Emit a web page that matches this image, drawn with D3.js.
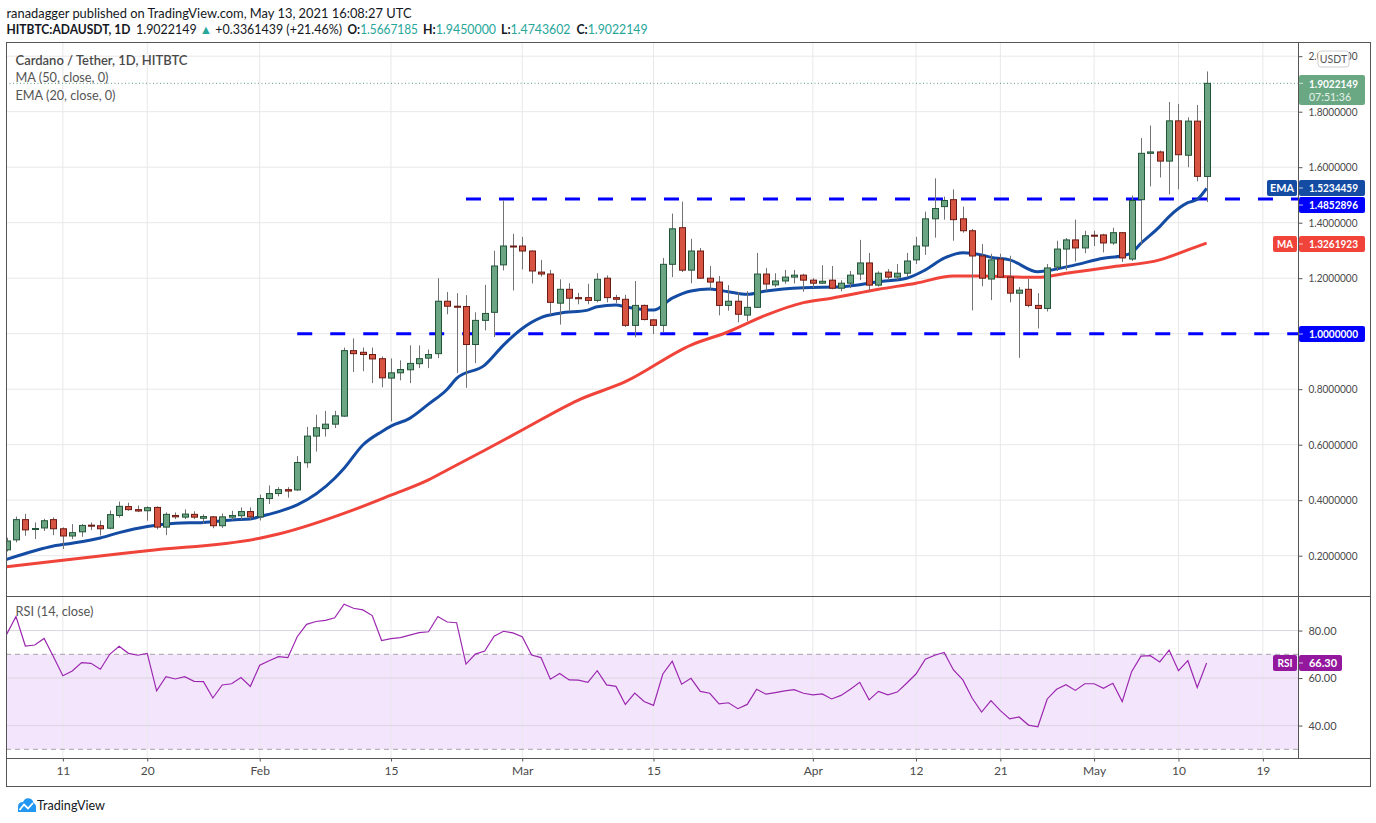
<!DOCTYPE html>
<html><head><meta charset="utf-8">
<script src="https://cdn.jsdelivr.net/npm/d3@7"></script>
<style>
body{margin:0;background:#fff;}
svg{display:block;font-family:Lato,"Liberation Sans",sans-serif;}
</style>
</head><body>
<svg id="c" width="1376" height="823"></svg>
<script>
// ---------- DATA ----------
const firstDay = "2021-01-05";
const lastDay  = "2021-05-13";
const opens = [0.221,0.257,0.330,0.295,0.300,0.330,0.297,0.271,0.286,0.310,
0.308,0.299,0.345,0.377,0.366,0.362,0.374,0.303,0.345,0.339,
0.349,0.335,0.340,0.308,0.339,0.344,0.359,0.340,0.406,0.424,
0.438,0.437,0.535,0.631,0.658,0.674,0.703,0.939,0.933,0.925,
0.910,0.840,0.859,0.870,0.892,0.912,0.928,1.117,1.099,1.098,
0.961,1.048,1.077,1.248,1.316,1.316,1.298,1.222,1.215,1.110,
1.160,1.130,1.130,1.120,1.200,1.130,1.124,1.030,1.102,1.050,
1.030,1.250,1.382,1.229,1.298,1.200,1.186,1.102,1.117,1.067,
1.095,1.215,1.176,1.190,1.204,1.211,1.193,1.182,1.193,1.164,
1.182,1.215,1.255,1.175,1.222,1.204,1.218,1.266,1.316,1.414,
1.458,1.483,1.414,1.371,1.280,1.197,1.269,1.204,1.146,1.160,
1.102,1.091,1.240,1.305,1.338,1.309,1.355,1.356,1.327,1.364,
1.269,1.483,1.650,1.655,1.622,1.767,1.643,1.766,1.5667185];
const highs = [0.265,0.341,0.351,0.320,0.333,0.338,0.302,0.314,0.314,0.320,
0.327,0.363,0.395,0.391,0.381,0.378,0.378,0.356,0.356,0.367,
0.360,0.349,0.343,0.352,0.362,0.374,0.374,0.420,0.453,0.447,
0.447,0.559,0.664,0.708,0.722,0.722,0.950,0.983,0.950,0.950,
0.918,0.911,0.904,0.958,0.958,0.943,1.200,1.150,1.146,1.139,
1.077,1.176,1.299,1.481,1.360,1.349,1.300,1.266,1.230,1.196,
1.182,1.147,1.180,1.218,1.210,1.140,1.140,1.190,1.105,1.052,
1.273,1.433,1.476,1.342,1.309,1.244,1.208,1.175,1.150,1.153,
1.291,1.237,1.218,1.230,1.230,1.216,1.200,1.247,1.244,1.193,
1.226,1.338,1.291,1.225,1.233,1.251,1.291,1.349,1.440,1.560,
1.494,1.520,1.458,1.378,1.323,1.288,1.288,1.281,1.168,1.197,
1.146,1.251,1.335,1.345,1.411,1.371,1.371,1.360,1.382,1.365,
1.498,1.705,1.750,1.660,1.835,1.828,1.780,1.824,1.9450000];
const lows = [0.215,0.248,0.272,0.260,0.289,0.274,0.224,0.260,0.268,0.292,
0.273,0.295,0.337,0.362,0.357,0.326,0.295,0.274,0.332,0.332,
0.332,0.314,0.299,0.300,0.328,0.330,0.330,0.327,0.386,0.414,
0.409,0.433,0.517,0.575,0.629,0.660,0.700,0.862,0.865,0.822,
0.807,0.684,0.832,0.822,0.876,0.876,0.912,1.070,0.858,0.805,
0.894,1.012,0.988,1.228,1.156,1.232,1.181,1.206,1.067,1.033,
1.081,1.106,1.106,1.113,1.113,1.110,1.024,0.987,1.048,0.999,
1.005,1.204,1.222,1.182,1.198,1.160,1.066,1.083,1.041,1.045,
1.093,1.154,1.168,1.180,1.181,1.151,1.164,1.180,1.160,1.153,
1.164,1.193,1.156,1.170,1.193,1.193,1.204,1.251,1.284,1.346,
1.411,1.335,1.364,1.084,1.171,1.121,1.204,1.113,0.913,1.095,
1.019,1.080,1.226,1.229,1.260,1.290,1.316,1.293,1.320,1.258,
1.262,1.320,1.531,1.563,1.502,1.520,1.600,1.549,1.4743602];
const closes = [0.253,0.330,0.293,0.298,0.326,0.297,0.271,0.283,0.309,0.308,
0.297,0.348,0.378,0.366,0.361,0.373,0.303,0.349,0.340,0.350,
0.339,0.341,0.308,0.340,0.345,0.359,0.340,0.406,0.424,0.438,
0.433,0.536,0.631,0.661,0.674,0.704,0.939,0.928,0.925,0.909,
0.841,0.859,0.871,0.893,0.910,0.925,1.117,1.099,1.097,0.961,
1.048,1.073,1.244,1.316,1.313,1.298,1.226,1.215,1.113,1.160,
1.128,1.126,1.120,1.196,1.130,1.124,1.030,1.102,1.051,1.030,
1.250,1.378,1.229,1.298,1.200,1.186,1.102,1.117,1.070,1.095,
1.215,1.179,1.190,1.204,1.211,1.193,1.182,1.189,1.164,1.182,
1.211,1.255,1.175,1.218,1.204,1.218,1.262,1.316,1.414,1.451,
1.480,1.411,1.371,1.280,1.200,1.266,1.204,1.146,1.157,1.102,
1.091,1.237,1.305,1.338,1.309,1.353,1.353,1.327,1.364,1.273,
1.480,1.650,1.655,1.622,1.767,1.645,1.766,1.567,1.9022149];
const rsiValues = [78.4,85.9,73.5,73.9,76.7,69.0,61.0,63.0,66.5,66.2,
63.7,70.0,73.4,70.4,69.6,70.4,54.6,60.6,59.6,60.6,
58.6,58.5,51.6,57.1,57.6,60.2,56.5,65.4,67.3,69.0,
68.6,77.4,82.6,83.8,84.3,85.4,91.1,89.4,88.7,86.3,
75.8,76.6,77.0,78.1,79.1,79.5,85.9,83.6,83.3,65.9,
70.1,71.4,77.6,79.7,79.0,77.4,69.7,68.6,59.5,61.9,
59.2,59.1,58.2,63.1,57.1,56.5,48.9,53.7,50.1,48.5,
61.7,67.1,57.4,59.9,54.4,53.6,49.1,49.6,47.1,48.9,
55.3,53.2,53.9,54.6,55.1,53.6,52.9,53.3,51.2,52.7,
55.3,58.2,50.8,54.4,52.9,54.1,57.8,61.7,67.9,69.6,
70.8,63.4,59.2,51.5,45.7,50.5,46.3,42.8,43.6,40.2,
39.5,51.2,55.3,57.2,54.8,57.6,57.6,55.7,57.8,50.1,
62.7,69.2,69.4,66.8,71.8,63.1,67.3,56.0,66.30];
// EMA(20) and MA(50) (day index from first day, value)
const emaDays = [0,3,5,7,10,12,15,18,21,24,26,27,29,31,35,36,38,40,41,43,45,47,48,51,53,55,57,59,62,63,65,66,69,71,73,75,77,79,81,85,89,93,96,98,100,102,104,105,107,110,111,114,117,119,120,121,123,124,126,127,128];
const emaValues = [0.187,0.218,0.235,0.245,0.264,0.283,0.305,0.317,0.320,0.329,0.332,0.341,0.359,0.383,0.479,0.515,0.599,0.647,0.667,0.695,0.746,0.800,0.839,0.887,0.959,1.019,1.058,1.074,1.085,1.097,1.103,1.097,1.085,1.128,1.154,1.161,1.151,1.142,1.154,1.166,1.169,1.187,1.200,1.230,1.272,1.292,1.284,1.275,1.266,1.223,1.227,1.248,1.272,1.281,1.292,1.326,1.386,1.422,1.472,1.484,1.5234459];
const maDays = [0,6,15,27,29,37,41,45,47,51,55,61,66,73,77,81,85,88,93,97,101,104,110,113,118,123,126,128];
const maValues = [0.160,0.184,0.218,0.263,0.278,0.365,0.418,0.473,0.509,0.580,0.653,0.761,0.827,0.959,1.007,1.067,1.112,1.128,1.160,1.182,1.208,1.208,1.203,1.218,1.241,1.266,1.302,1.3261923];
const levelValues = [1.4852896, 1.0];
const levelStartDays = [49, 31];
const priceTicks = [0.2,0.4,0.6,0.8,1.0,1.2,1.4,1.6,1.8,2.0];
const rsiTicks = [40,60,80];
const timeTickDates = ["2021-01-11","2021-01-20","2021-02-01","2021-02-15","2021-03-01","2021-03-15","2021-04-01","2021-04-12","2021-04-21","2021-05-01","2021-05-10","2021-05-19"];
const timeTickLabels = ["11","20","Feb","15","Mar","15","Apr","12","21","May","10","19"];

// ---------- LAYOUT ----------
const L = 6, R = 1298, OUTR = 1370, TOP = 42, MAINB = 596, RSIB = 758, BOT = 786;
const svg = d3.select("#c");
const parse = d3.utcParse("%Y-%m-%d");
const d0 = parse(firstDay), d1 = parse(lastDay);
const dates = d3.utcDay.range(d0, d3.utcDay.offset(d1, 1));
const x = d3.scaleUtc().domain([d0, d1]).range([6.6, 1206.6]);
const y = d3.scaleLinear().domain([1.0, 2.0]).range([333.7, 56.2]);
const yr = d3.scaleLinear().domain([30, 70]).range([749.3, 654.3]);
const gridC = "#e8e8ea", axisC = "#4a4a4a";

const defs = svg.append("defs");
defs.append("clipPath").attr("id","mainClip").append("rect").attr("x",L).attr("y",TOP).attr("width",R-L).attr("height",MAINB-TOP);
defs.append("clipPath").attr("id","rsiClip").append("rect").attr("x",L).attr("y",MAINB).attr("width",R-L).attr("height",RSIB-MAINB);

// RSI band
svg.append("rect").attr("x",L).attr("y",yr(70)).attr("width",R-L).attr("height",yr(30)-yr(70)).attr("fill","#f3e6fc");

// vertical grid
const tickDates = timeTickDates.map(parse);
svg.append("g").selectAll("line").data(tickDates).join("line")
  .attr("x1",d=>x(d)).attr("x2",d=>x(d)).attr("y1",TOP).attr("y2",RSIB)
  .attr("stroke",gridC).attr("stroke-width",1);
// horizontal grid main
svg.append("g").selectAll("line").data(priceTicks).join("line")
  .attr("x1",L).attr("x2",R).attr("y1",d=>y(d)).attr("y2",d=>y(d))
  .attr("stroke",gridC);
// rsi grid
svg.append("g").selectAll("line").data(rsiTicks).join("line")
  .attr("x1",L).attr("x2",R).attr("y1",d=>yr(d)).attr("y2",d=>yr(d))
  .attr("stroke","#dcd4e2");
svg.append("g").selectAll("line").data([70,30]).join("line")
  .attr("x1",L).attr("x2",R).attr("y1",d=>yr(d)).attr("y2",d=>yr(d))
  .attr("stroke","#a8a2ac").attr("stroke-dasharray","5,4");

// price dotted line
svg.append("line").attr("x1",L).attr("x2",R).attr("y1",y(closes[closes.length-1])).attr("y2",y(closes[closes.length-1]))
  .attr("stroke","#5d9c80").attr("stroke-dasharray","1,2.5");

// main pane content
const main = svg.append("g").attr("clip-path","url(#mainClip)");
// horizontal levels
main.selectAll("line.lvl").data(levelValues).join("line").attr("class","lvl")
  .attr("x1",(d,i)=>x(dates[levelStartDays[i]])).attr("x2",R+20)
  .attr("y1",d=>y(d)).attr("y2",d=>y(d))
  .attr("stroke","#0000ff").attr("stroke-width",3).attr("stroke-dasharray","15,18");

// MA & EMA
const lineGen = d3.line().x(d=>x(dates[d[0]])).y(d=>y(d[1])).curve(d3.curveMonotoneX);
main.append("path").datum(maDays.map((d,i)=>[d,maValues[i]])).attr("d",lineGen)
  .attr("fill","none").attr("stroke","#f0433a").attr("stroke-width",3).attr("stroke-linejoin","round");
main.append("path").datum(emaDays.map((d,i)=>[d,emaValues[i]])).attr("d",lineGen)
  .attr("fill","none").attr("stroke","#144ca4").attr("stroke-width",3).attr("stroke-linejoin","round");

// candles
const candles = dates.map((d,i)=>({d,o:opens[i],h:highs[i],l:lows[i],c:closes[i]}));
const bw = 6;
const cg = main.append("g");
cg.selectAll("line").data(candles).join("line")
  .attr("x1",d=>Math.round(x(d.d))+0.5).attr("x2",d=>Math.round(x(d.d))+0.5)
  .attr("y1",d=>y(d.h)).attr("y2",d=>y(d.l)).attr("stroke","#737375").attr("stroke-width",1);
cg.selectAll("rect").data(candles).join("rect")
  .attr("x",d=>Math.round(x(d.d))-bw/2+0.5).attr("width",bw)
  .attr("y",d=>y(Math.max(d.o,d.c)))
  .attr("height",d=>Math.max(1,Math.abs(y(d.o)-y(d.c))))
  .attr("fill",d=>d.c>=d.o?"#6ba583":"#d75442")
  .attr("stroke",d=>d.c>=d.o?"#225437":"#6b1a13").attr("stroke-width",1);

// RSI line
svg.append("g").attr("clip-path","url(#rsiClip)").append("path")
  .datum(rsiValues.map((v,i)=>[dates[i],v]))
  .attr("d",d3.line().x(d=>x(d[0])).y(d=>yr(d[1])))
  .attr("fill","none").attr("stroke","#9c27b0").attr("stroke-width",1.2);

// frame lines
const frame = svg.append("g").attr("stroke","#555").attr("stroke-width",1);
frame.append("rect").attr("x",L+0.5).attr("y",TOP+0.5).attr("width",OUTR-L).attr("height",BOT-TOP).attr("fill","none");
frame.append("line").attr("x1",R+0.5).attr("x2",R+0.5).attr("y1",TOP).attr("y2",RSIB);
frame.append("line").attr("x1",L).attr("x2",OUTR).attr("y1",MAINB+0.5).attr("y2",MAINB+0.5);
frame.append("line").attr("x1",L).attr("x2",OUTR).attr("y1",RSIB+0.5).attr("y2",RSIB+0.5);

// axes
const fmt7 = d3.format(".7f");
const pAxis = svg.append("g").attr("transform",`translate(${R+0.5},0)`)
  .call(d3.axisRight(y).tickValues(priceTicks).tickFormat(fmt7).tickSize(4).tickPadding(6));
pAxis.select(".domain").remove();
pAxis.selectAll("line").attr("stroke","#555");
pAxis.selectAll("text").attr("fill",axisC).attr("font-size",11.5).attr("font-family","Lato,sans-serif").attr("textLength",49).attr("lengthAdjust","spacingAndGlyphs");

const rAxis = svg.append("g").attr("transform",`translate(${R+0.5},0)`)
  .call(d3.axisRight(yr).tickValues(rsiTicks).tickFormat(d3.format(".2f")).tickSize(4).tickPadding(6));
rAxis.select(".domain").remove();
rAxis.selectAll("line").attr("stroke","#555");
rAxis.selectAll("text").attr("fill",axisC).attr("font-size",11.5).attr("font-family","Lato,sans-serif").attr("textLength",28).attr("lengthAdjust","spacingAndGlyphs");

const tAxis = svg.append("g").attr("transform",`translate(0,${RSIB+0.5})`)
  .call(d3.axisBottom(x).tickValues(tickDates).tickFormat((d,i)=>timeTickLabels[i]).tickSize(3).tickPadding(5));
tAxis.select(".domain").remove();
tAxis.selectAll("line").attr("stroke","#555");
tAxis.selectAll("text").attr("fill",axisC).attr("font-size",12).attr("font-family","Lato,sans-serif");

// label boxes
function box(x0,y0,w,h,fill,txt,opts={}){
  const g = svg.append("g");
  g.append("rect").attr("x",x0).attr("y",y0).attr("width",w).attr("height",h).attr("rx",2).attr("fill",fill);
  if(opts.tick) g.append("line").attr("x1",x0).attr("x2",x0+4).attr("y1",y0+h/2).attr("y2",y0+h/2).attr("stroke","rgba(255,255,255,0.7)");
  g.append("text").attr("x",opts.tick?x0+10:x0+w/2).attr("y",y0+h/2+4).attr("text-anchor",opts.tick?"start":"middle")
   .attr("fill","#fff").attr("font-size",11.5).attr("font-weight",700).text(txt)
   .attr("textLength",opts.tl||null).attr("lengthAdjust","spacingAndGlyphs");
  return g;
}
// current price
const cp = svg.append("g");
cp.append("rect").attr("x",1299).attr("y",75).attr("width",66).attr("height",30).attr("rx",2).attr("fill","#6aa884");
cp.append("line").attr("x1",1299).attr("x2",1303).attr("y1",y(closes[128])).attr("y2",y(closes[128])).attr("stroke","rgba(255,255,255,0.7)");
cp.append("text").attr("x",1309).attr("y",88).attr("fill","#fff").attr("font-size",11.5).attr("font-weight",700).attr("textLength",49).attr("lengthAdjust","spacingAndGlyphs").text("1.9022149");
cp.append("text").attr("x",1309).attr("y",101).attr("fill","#e6f2ea").attr("font-size",11).attr("textLength",42).attr("lengthAdjust","spacingAndGlyphs").text("07:51:36");

box(1267,180,30,16,"#144ca4","EMA",{tl:24});
box(1299,180,66,16,"#144ca4","1.5234459",{tick:true,tl:49});
box(1299,197,66,16,"#0000ff","1.4852896",{tick:true,tl:49});
box(1273,236,24,16,"#f0433a","MA",{tl:16});
box(1299,236,66,16,"#f0433a","1.3261923",{tick:true,tl:49});
box(1299,326,66,16,"#0000ff","1.0000000",{tick:true,tl:49});
box(1273,655,24,16,"#93189e","RSI",{tl:15});
box(1299,655,43,16,"#93189e","66.30",{tick:true,tl:28});

// USDT badge
svg.append("rect").attr("x",1318).attr("y",51).attr("width",31).attr("height",16).attr("rx",3).attr("fill","#fff").attr("stroke","#cfcfcf");
svg.append("text").attr("x",1333.5).attr("y",63).attr("text-anchor","middle").attr("fill","#555").attr("font-size",10.5).text("USDT");

// legends
svg.append("text").attr("x",15.5).attr("y",65).attr("fill","#4a4a4a").attr("font-size",13).attr("font-weight",600).attr("textLength",172).attr("lengthAdjust","spacingAndGlyphs").text("Cardano / Tether, 1D, HITBTC");
svg.append("text").attr("x",15.5).attr("y",82).attr("fill","#555").attr("font-size",13).attr("textLength",93).attr("lengthAdjust","spacingAndGlyphs").text("MA (50, close, 0)");
svg.append("text").attr("x",15.5).attr("y",99.5).attr("fill","#555").attr("font-size",13).attr("textLength",100).attr("lengthAdjust","spacingAndGlyphs").text("EMA (20, close, 0)");
svg.append("text").attr("x",15.5).attr("y",616).attr("fill","#555").attr("font-size",13).attr("textLength",78).attr("lengthAdjust","spacingAndGlyphs").text("RSI (14, close)");

// header
const hd = svg.append("g").attr("font-size",13.5).attr("fill","#131722");
hd.append("text").attr("x",6.5).attr("y",18).attr("textLength",405).attr("lengthAdjust","spacingAndGlyphs").text("ranadagger published on TradingView.com, May 13, 2021 16:08:27 UTC");
const teal = "#26a69a";
// each group: [x, textLength, [[text, colour, weight], ...]]
const headerGroups = [
  [6.5, 124, [["HITBTC:ADAUSDT, 1D","#131722",700]]],
  [136, 206, [["1.9022149 ","#131722",400],["▲",teal,400],[" +0.3361439 (+21.46%)","#131722",400]]],
  [347.5, 70.5, [["O:","#131722",700],["1.5667185",teal,400]]],
  [423, 73, [["H:","#131722",700],["1.9450000",teal,400]]],
  [501, 69.5, [["L:","#131722",700],["1.4743602",teal,400]]],
  [576.5, 71, [["C:","#131722",700],["1.9022149",teal,400]]]
];
headerGroups.forEach(g=>{
  const t = hd.append("text").attr("x",g[0]).attr("y",34).attr("font-size",12.5)
    .attr("textLength",g[1]).attr("lengthAdjust","spacingAndGlyphs").attr("xml:space","preserve");
  g[2].forEach(p=>t.append("tspan").attr("fill",p[1]).attr("font-weight",p[2]).text(p[0]));
});

// TradingView logo
const lg = svg.append("g");
lg.append("path").attr("d","M18,812 L18,807 Q18,802 23,802 Q25,797 30,798.5 Q33,799.5 33.5,803 Q36.5,804 36,809 L36,812 Z").attr("fill","#2196f3");
lg.append("polyline").attr("points","19.5,810 24,804.5 28,808.5 33,803").attr("fill","none").attr("stroke","#fff").attr("stroke-width",1.8);
svg.append("text").attr("x",37).attr("y",810).attr("font-size",14).attr("fill","#131722").attr("textLength",68).attr("lengthAdjust","spacingAndGlyphs").text("TradingView");
</script>
</body></html>
